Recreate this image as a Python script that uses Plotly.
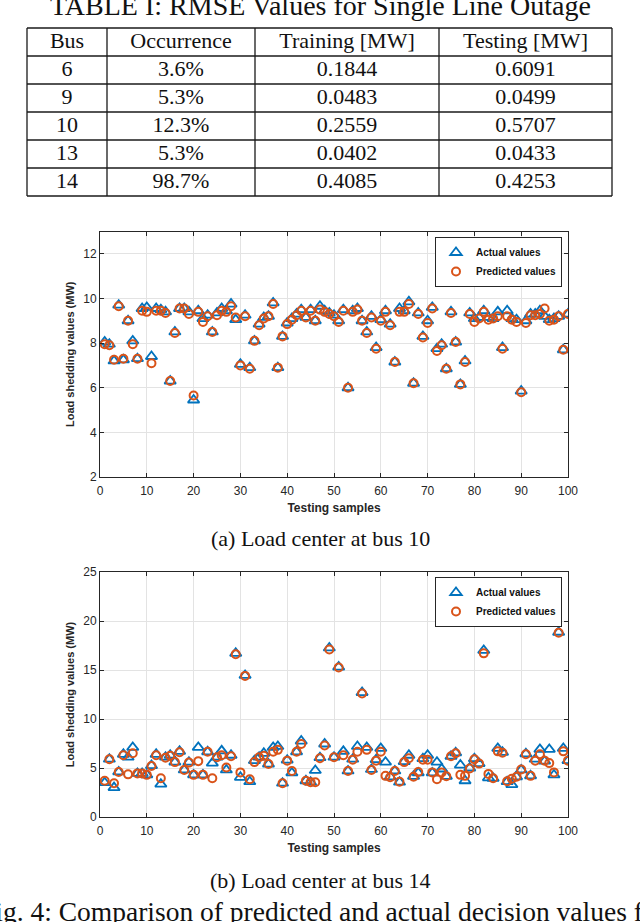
import plotly.graph_objects as go

# ---------------- data ----------------
table_title = "TABLE I: RMSE Values for Single Line Outage"
table_header = ["Bus", "Occurrence", "Training [MW]", "Testing [MW]"]
table_bus = ["6", "9", "10", "13", "14"]
table_occurrence = ["3.6%", "5.3%", "12.3%", "5.3%", "98.7%"]
table_training = ["0.1844", "0.0483", "0.2559", "0.0402", "0.4085"]
table_testing = ["0.6091", "0.0499", "0.5707", "0.0433", "0.4253"]

samples = list(range(1, 101))

bus10_actual = [8.05, 7.95, 7.2, 9.7, 7.25, 9.0, 8.1, 7.3, 9.55, 9.6,
                7.4, 9.55, 9.5, 9.4, 6.3, 8.5, 9.55, 9.55, 9.4, 5.45,
                9.45, 9.1, 9.25, 8.5, 9.35, 9.55, 9.45, 9.75, 9.05, 7.05,
                9.25, 6.9, 8.1, 8.85, 9.15, 9.2, 9.8, 6.9, 8.3, 8.9,
                9.1, 9.3, 9.5, 9.15, 9.5, 9.0, 9.65, 9.45, 9.35, 9.25,
                9.0, 9.5, 6.0, 9.45, 9.55, 9.0, 8.5, 9.2, 7.8, 9.05,
                9.45, 8.85, 7.15, 9.55, 9.45, 9.85, 6.2, 9.35, 8.3, 9.0,
                9.6, 7.75, 7.95, 6.85, 9.4, 8.05, 6.15, 7.2, 9.35, 9.1,
                9.15, 9.45, 9.15, 9.1, 9.4, 7.8, 9.45, 9.1, 9.05, 5.85,
                9.0, 9.3, 9.3, 9.45, 9.2, 9.05, 9.1, 9.2, 7.7, 9.3]
bus10_pred = [7.95, 7.9, 7.25, 9.65, 7.3, 9.0, 7.95, 7.3, 9.45, 9.4,
              7.1, 9.45, 9.45, 9.35, 6.3, 8.45, 9.55, 9.55, 9.3, 5.65,
              9.4, 8.95, 9.2, 8.5, 9.25, 9.45, 9.4, 9.65, 9.15, 7.0,
              9.2, 6.85, 8.1, 8.8, 9.1, 9.2, 9.75, 6.9, 8.3, 8.85,
              9.05, 9.25, 9.45, 9.15, 9.45, 9.0, 9.5, 9.4, 9.3, 9.2,
              8.95, 9.45, 6.0, 9.4, 9.5, 9.0, 8.45, 9.15, 7.75, 9.0,
              9.4, 8.8, 7.15, 9.4, 9.4, 9.75, 6.2, 9.3, 8.25, 8.9,
              9.55, 7.65, 7.9, 6.85, 9.35, 8.05, 6.15, 7.15, 9.3, 8.95,
              9.1, 9.4, 9.05, 9.1, 9.2, 7.75, 9.2, 9.05, 8.95, 5.8,
              8.9, 9.25, 9.25, 9.3, 9.55, 9.0, 9.05, 9.2, 7.7, 9.3]

bus14_actual = [3.5, 5.9, 3.0, 4.6, 6.4, 6.1, 7.1, 4.45, 4.45, 4.3,
                5.25, 6.4, 3.35, 6.1, 6.3, 5.6, 6.7, 4.8, 5.6, 4.3,
                7.1, 4.3, 6.65, 5.5, 6.1, 6.75, 4.8, 6.3, 16.7, 4.05,
                14.45, 3.6, 5.75, 6.1, 6.5, 5.4, 7.1, 7.2, 3.45, 5.8,
                4.5, 6.65, 7.75, 3.7, 3.55, 4.75, 6.05, 7.45, 17.25, 6.1,
                15.3, 6.7, 4.7, 5.9, 7.2, 12.7, 7.1, 4.85, 5.85, 7.0,
                5.6, 4.1, 4.7, 3.55, 5.65, 6.3, 4.15, 4.5, 5.95, 6.3,
                4.5, 5.6, 4.9, 4.15, 6.2, 6.55, 5.3, 3.7, 5.0, 5.95,
                5.45, 17.0, 4.0, 3.95, 7.0, 6.6, 3.6, 3.3, 4.1, 4.8,
                6.45, 4.2, 5.9, 6.9, 5.7, 6.9, 4.3, 18.85, 7.0, 5.75]
bus14_pred = [3.7, 5.9, 3.45, 4.6, 6.3, 4.35, 6.5, 4.45, 4.45, 4.3,
              5.2, 6.3, 3.95, 6.05, 6.25, 5.6, 6.6, 4.8, 5.55, 4.3,
              5.7, 4.3, 6.65, 3.95, 6.1, 6.3, 5.05, 6.2, 16.6, 4.55,
              14.4, 3.85, 5.6, 6.1, 6.25, 5.4, 6.65, 6.85, 3.45, 5.75,
              4.7, 6.65, 7.45, 3.7, 3.55, 3.55, 6.0, 7.3, 17.1, 6.1,
              15.25, 6.3, 4.7, 5.85, 6.65, 12.6, 6.85, 4.8, 5.75, 6.65,
              4.2, 4.05, 4.7, 3.6, 5.6, 6.0, 4.1, 4.6, 5.85, 5.85,
              4.55, 3.85, 4.55, 4.15, 6.2, 6.5, 4.3, 4.2, 4.95, 5.9,
              5.45, 16.7, 4.4, 3.95, 6.7, 6.55, 3.65, 3.9, 4.1, 4.85,
              6.4, 4.2, 5.75, 6.4, 5.75, 5.5, 4.55, 18.8, 6.7, 5.75]

caption_a = "(a) Load center at bus 10"
caption_b = "(b) Load center at bus 14"
fig_caption = "Fig. 4: Comparison of predicted and actual decision values for load centers"
x_title = "Testing samples"
y_title = "Load shedding values (MW)"
x_ticks = [0, 10, 20, 30, 40, 50, 60, 70, 80, 90, 100]
y_ticks_a = [2, 4, 6, 8, 10, 12]
y_ticks_b = [0, 5, 10, 15, 20, 25]

# ---------------- styling ----------------
W, H = 640, 922
BLUE = "#0072BD"
ORANGE = "#D95319"
AX = "#262626"
GRID = "#e3e3e3"
SANS = "Liberation Sans"
SERIF = "Liberation Serif"
TABLE_LINE = "#1a1a1a"

# table frame (pixels): column widths, row height, top-left corner
col_widths = [80, 148, 184, 173]
row_h = 28
tbl_left, tbl_top = 27, 28
text_lift = 5  # table text sits slightly above cell centre


def px_x(p):
    return p / W


def px_y(p):
    return 1 - p / H


fig = go.Figure()

tbl_right = tbl_left + sum(col_widths)
n_rows = len(table_bus) + 1
tbl_bottom = tbl_top + n_rows * row_h

# table (text), lifted a little; the ruling is drawn as shapes below
fig.add_trace(go.Table(
    domain=dict(x=[px_x(tbl_left), px_x(tbl_right)],
                y=[px_y(tbl_bottom + 10), px_y(tbl_top - text_lift)]),
    columnwidth=col_widths,
    header=dict(values=table_header, height=row_h, align="center",
                line=dict(color="rgba(0,0,0,0)", width=0), fill=dict(color="rgba(0,0,0,0)"),
                font=dict(family=SERIF, size=22, color="#111")),
    cells=dict(values=[table_bus, table_occurrence, table_training, table_testing],
               height=row_h, align="center",
               line=dict(color="rgba(0,0,0,0)", width=0), fill=dict(color="rgba(0,0,0,0)"),
               font=dict(family=SERIF, size=22, color="#111")),
))

shapes = []
for r in range(n_rows + 1):
    yy = px_y(tbl_top + r * row_h)
    shapes.append(dict(type="line", xref="paper", yref="paper",
                       x0=px_x(tbl_left), x1=px_x(tbl_right), y0=yy, y1=yy,
                       line=dict(color=TABLE_LINE, width=1.3)))
xc = tbl_left
for c in range(len(col_widths) + 1):
    shapes.append(dict(type="line", xref="paper", yref="paper",
                       x0=px_x(xc), x1=px_x(xc), y0=px_y(tbl_top), y1=px_y(tbl_bottom),
                       line=dict(color=TABLE_LINE, width=1.3)))
    if c < len(col_widths):
        xc += col_widths[c]

tri = dict(symbol="triangle-up-open", size=10, color=BLUE, line=dict(width=1.8, color=BLUE))
cir = dict(symbol="circle-open", size=8, color=ORANGE, line=dict(width=2, color=ORANGE))

fig.add_trace(go.Scatter(x=samples, y=bus10_actual, mode="markers", marker=tri,
                         name="Actual values", xaxis="x", yaxis="y", legend="legend"))
fig.add_trace(go.Scatter(x=samples, y=bus10_pred, mode="markers", marker=cir,
                         name="Predicted values", xaxis="x", yaxis="y", legend="legend"))
fig.add_trace(go.Scatter(x=samples, y=bus14_actual, mode="markers", marker=tri,
                         name="Actual values", xaxis="x2", yaxis="y2", legend="legend2"))
fig.add_trace(go.Scatter(x=samples, y=bus14_pred, mode="markers", marker=cir,
                         name="Predicted values", xaxis="x2", yaxis="y2", legend="legend2"))

common_x = dict(range=[0, 100], tickvals=x_ticks, ticks="inside", ticklen=4,
                tickcolor=AX, showline=True, linecolor=AX, linewidth=1, mirror="ticks",
                showgrid=True, gridcolor=GRID, gridwidth=1, zeroline=False,
                ticklabelstandoff=3,
                tickfont=dict(family=SANS, size=12, color=AX), automargin=False,
                title=dict(text="<b>" + x_title + "</b>", standoff=6,
                           font=dict(family=SANS, size=12, color=AX)))
common_y = dict(ticks="inside", ticklen=4, tickcolor=AX, showline=True, linecolor=AX,
                linewidth=1, mirror="ticks", showgrid=True, gridcolor=GRID, gridwidth=1,
                zeroline=False, tickfont=dict(family=SANS, size=12, color=AX),
                automargin=False,
                title=dict(text="<b>" + y_title + "</b>", standoff=6,
                           font=dict(family=SANS, size=11, color=AX)))

dom_x = [px_x(100), px_x(568)]
fig.update_layout(
    width=W, height=H, margin=dict(l=0, r=0, t=0, b=0),
    paper_bgcolor="white", plot_bgcolor="white", showlegend=True,
    xaxis=dict(domain=dom_x, anchor="y", **common_x),
    yaxis=dict(domain=[px_y(477), px_y(231.5)], anchor="x", range=[2, 13],
               tickvals=y_ticks_a, **common_y),
    xaxis2=dict(domain=dom_x, anchor="y2", **common_x),
    yaxis2=dict(domain=[px_y(817), px_y(572)], anchor="x2", range=[0, 25],
                tickvals=y_ticks_b, **common_y),
    legend=dict(x=px_x(562), y=px_y(237), xanchor="right", yanchor="top",
                bgcolor="white", bordercolor=AX, borderwidth=1, itemwidth=30,
                tracegroupgap=0,
                font=dict(family=SANS, size=10, color="#111", weight="bold")),
    legend2=dict(x=px_x(562), y=px_y(577), xanchor="right", yanchor="top",
                 bgcolor="white", bordercolor=AX, borderwidth=1, itemwidth=30,
                 tracegroupgap=0,
                 font=dict(family=SANS, size=10, color="#111", weight="bold")),
    shapes=shapes,
)

ann = []
ann.append(dict(text=table_title, x=0.5, y=px_y(5.5), xref="paper", yref="paper",
                xanchor="center", yanchor="middle", showarrow=False,
                font=dict(family=SERIF, size=28, color="#111")))
ann.append(dict(text=caption_a, x=0.5, y=px_y(538), xref="paper", yref="paper",
                xanchor="center", yanchor="middle", showarrow=False,
                font=dict(family=SERIF, size=22, color="#111")))
ann.append(dict(text=caption_b, x=0.5, y=px_y(880), xref="paper", yref="paper",
                xanchor="center", yanchor="middle", showarrow=False,
                font=dict(family=SERIF, size=22, color="#111")))
ann.append(dict(text=fig_caption, x=px_x(-22), y=px_y(911), xref="paper", yref="paper",
                xanchor="left", yanchor="middle", showarrow=False,
                font=dict(family=SERIF, size=27.5, color="#111")))
fig.update_layout(annotations=ann)

fig.write_html("out.html", config={"displayModeBar": False},
               post_script="document.body.style.margin='0px';document.body.style.overflow='hidden';")
